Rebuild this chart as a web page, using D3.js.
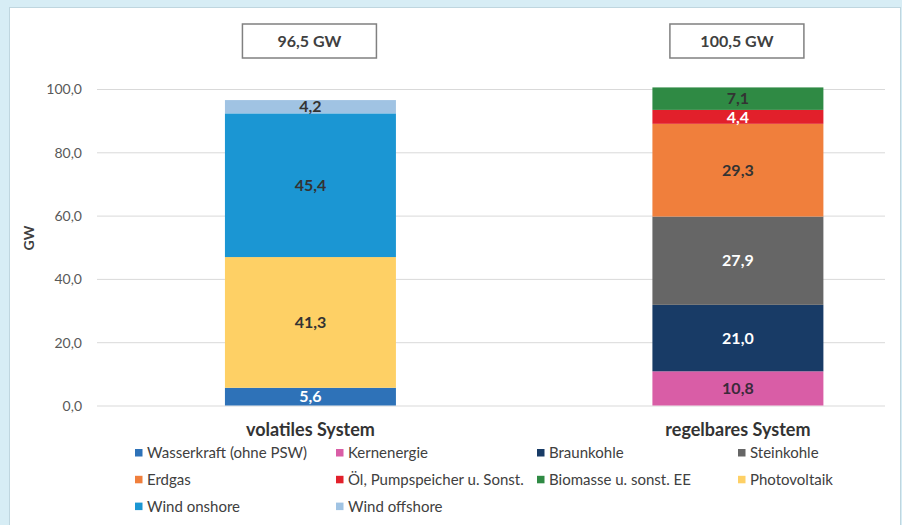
<!DOCTYPE html>
<html>
<head>
<meta charset="utf-8">
<script src="https://cdn.jsdelivr.net/npm/d3@7/dist/d3.min.js"></script>
<style>
  html, body { margin: 0; padding: 0; background: #d7edf5; }
  svg { display: block; }
</style>
</head>
<body>
<svg id="chart" width="902" height="525"></svg>
<script>
// ---- data ----
const categories = ["volatiles System", "regelbares System"];
const totals = ["96,5 GW", "100,5 GW"];
const seriesNames = [
  "Wasserkraft (ohne PSW)", "Kernenergie", "Braunkohle", "Steinkohle",
  "Erdgas", "Öl, Pumpspeicher u. Sonst.", "Biomasse u. sonst. EE", "Photovoltaik",
  "Wind onshore", "Wind offshore"
];
// values per series: [volatiles, regelbares]
const wasserkraft = [5.6, 0];
const kernenergie = [0, 10.8];
const braunkohle = [0, 21.0];
const steinkohle = [0, 27.9];
const erdgas = [0, 29.3];
const oel = [0, 4.4];
const biomasse = [0, 7.1];
const photovoltaik = [41.3, 0];
const windOnshore = [45.4, 0];
const windOffshore = [4.2, 0];
const seriesValues = [wasserkraft, kernenergie, braunkohle, steinkohle, erdgas, oel, biomasse, photovoltaik, windOnshore, windOffshore];
const yTicks = [0, 20, 40, 60, 80, 100];

const colors = ["#2e72b8", "#d95da6", "#183b66", "#666666", "#f07f3c", "#e2202b", "#2f8a44", "#fed065", "#1b96d3", "#a0c3e3"];
const labelColors = ["#ffffff", "#3a2a3a", "#ffffff", "#ffffff", "#333333", "#ffffff", "#333333", "#333333", "#333333", "#333333"];

// ---- layout ----
const svg = d3.select("#chart");
const W = 902, H = 525;
const plot = { left: 97, right: 885, top: 89, bottom: 405.5 };

svg.append("rect").attr("x", 0).attr("y", 0).attr("width", W).attr("height", H).attr("fill", "#d7edf5");
svg.append("rect").attr("x", 9.5).attr("y", 7.5).attr("width", 891).attr("height", 530)
  .attr("fill", "#ffffff").attr("stroke", "#bfd6df").attr("stroke-width", 1);

const locale = d3.formatLocale({ decimal: ",", thousands: ".", grouping: [3], currency: ["", " €"] });
const fmt = locale.format(".1f");

const x = d3.scaleBand().domain(categories).range([plot.left, plot.right])
  .paddingInner(0.6).paddingOuter(0.2217).align(0.675);
const y = d3.scaleLinear().domain([0, 100]).range([plot.bottom, plot.top]);

// gridlines
svg.append("g").selectAll("line").data(yTicks).join("line")
  .attr("x1", plot.left).attr("x2", plot.right)
  .attr("y1", d => y(d) + 0.5).attr("y2", d => y(d) + 0.5)
  .attr("stroke", "#d9d9d9").attr("stroke-width", 1);

// y axis labels
const yAxis = d3.axisLeft(y).tickValues(yTicks).tickFormat(fmt).tickSize(0).tickPadding(0);
const yg = svg.append("g").attr("transform", `translate(${82},0)`).call(yAxis);
yg.select(".domain").remove();
yg.selectAll("text").attr("font-family", "Lato, 'Open Sans', sans-serif").attr("font-size", 14)
  .attr("fill", "#595959").attr("dy", "0.35em");

// y title
svg.append("text").attr("transform", `translate(${34},${238}) rotate(-90)`)
  .attr("text-anchor", "middle").attr("font-family", "Lato, sans-serif").attr("font-weight", 700)
  .attr("font-size", 14).attr("fill", "#404040").text("GW");

// stacked data
const rows = categories.map((c, i) => {
  const o = { cat: c };
  seriesNames.forEach((s, j) => { o[s] = seriesValues[j][i]; });
  return o;
});
const stack = d3.stack().keys(seriesNames)(rows);

const gBars = svg.append("g");
stack.forEach((layer, j) => {
  layer.forEach(seg => {
    const v = seg[1] - seg[0];
    if (v <= 0) return;
    const cat = seg.data.cat;
    gBars.append("rect")
      .attr("x", x(cat)).attr("width", x.bandwidth())
      .attr("y", y(seg[1])).attr("height", y(seg[0]) - y(seg[1]))
      .attr("fill", colors[j]);
    gBars.append("text")
      .attr("x", x(cat) + x.bandwidth() / 2)
      .attr("y", (y(seg[0]) + y(seg[1])) / 2)
      .attr("dy", "0.36em")
      .attr("text-anchor", "middle")
      .attr("font-family", "Lato, sans-serif").attr("font-weight", 700).attr("font-size", 16)
      .attr("fill", labelColors[j]).text(fmt(v));
  });
});

// category labels
svg.append("g").selectAll("text").data(categories).join("text")
  .attr("x", d => x(d) + x.bandwidth() / 2).attr("y", 430).attr("dy", "0.35em")
  .attr("text-anchor", "middle").attr("font-family", "Lato, sans-serif").attr("font-weight", 700)
  .attr("font-size", 18).attr("fill", "#333333").text(d => d);

// total boxes
const boxW = 134, boxH = 34;
const boxes = svg.append("g").selectAll("g").data(categories).join("g")
  .attr("transform", (d) => `translate(${x(d) + x.bandwidth() / 2 - 1},${41})`);
boxes.append("rect").attr("x", -boxW / 2).attr("y", -boxH / 2).attr("width", boxW).attr("height", boxH)
  .attr("fill", "#ffffff").attr("stroke", "#808080").attr("stroke-width", 1.5);
boxes.append("text").attr("text-anchor", "middle").attr("dy", "0.36em")
  .attr("font-family", "Lato, sans-serif").attr("font-weight", 700).attr("font-size", 16)
  .attr("fill", "#404040").text((d, i) => totals[i]);

// legend
const legX0 = 135, legColW = 201, legY0 = 453, legRowH = 26.8;
const leg = svg.append("g").selectAll("g").data(seriesNames).join("g")
  .attr("transform", (d, i) => `translate(${legX0 + (i % 4) * legColW},${legY0 + Math.floor(i / 4) * legRowH})`);
leg.append("rect").attr("x", 0).attr("y", -4).attr("width", 7.5).attr("height", 7.5)
  .attr("fill", (d, i) => colors[i]);
leg.append("text").attr("x", 12).attr("y", 0).attr("dy", "0.35em")
  .attr("font-family", "Lato, sans-serif").attr("font-size", 15).attr("fill", "#404040")
  .text(d => d);
</script>
</body>
</html>
